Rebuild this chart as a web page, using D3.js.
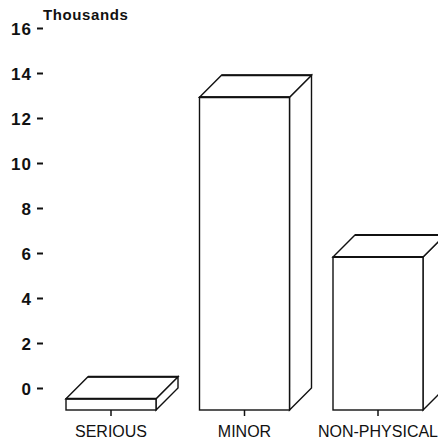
<!doctype html>
<html>
  <head>
    <meta charset="utf-8">
    <title>Thousands by category</title>
    <style>
      body { margin: 0; background: #fff; }
      svg { display: block; }
      .face {
        fill: #fff;
        stroke: #111;
        stroke-width: 1.4;
        stroke-linejoin: miter;
      }
    </style>
  </head>
  <body>
    <div id="chart"></div>

    <script src="https://cdn.jsdelivr.net/npm/d3@7"></script>

    <script>
      var categories = ['SERIOUS', 'MINOR', 'NON-PHYSICAL'];
      var values = [0.5, 13.9, 6.8];
      var yTicks = [0, 2, 4, 6, 8, 10, 12, 14, 16];

      (function() {
        var width = 438;
        var height = 445;
        var depth = 22;      // 3d offset of the back plane
        var barW = 90;
        var font = '"Liberation Sans", Arial, sans-serif';

        var svg = d3.select('#chart')
          .append('svg')
          .attr('width', width)
          .attr('height', height);

        // the axis is on the back plane
        var y = d3.scaleLinear().domain([0, 16]).range([388, 28]);
        var x = d3.scalePoint().domain(categories).range([111, 378]);

        var yAxis = d3.axisLeft(y)
          .tickValues(yTicks)
          .tickSize(6)
          .tickPadding(5)
          .tickFormat(d3.format('d'));

        var ax = svg.append('g')
          .attr('transform', 'translate(43,0)')
          .call(yAxis)
          .attr('font-family', font)
          .attr('font-size', 17)
          .attr('font-weight', 'bold');
        ax.select('.domain').remove();
        ax.selectAll('.tick line').attr('stroke', '#111').attr('stroke-width', 2);
        ax.selectAll('.tick text')
          .attr('fill', '#111')
          .attr('letter-spacing', 1)
          .attr('dy', '0.36em');

        svg.append('text')
          .attr('x', 43)
          .attr('y', 20)
          .attr('font-family', font)
          .attr('font-weight', 'bold')
          .attr('font-size', 15)
          .attr('letter-spacing', 0.6)
          .attr('fill', '#111')
          .text('Thousands');

        var bars = svg.selectAll('g.bar')
          .data(categories.map(function(c, i) { return {cat: c, v: values[i]}; }))
          .enter()
          .append('g')
          .attr('class', 'bar');

        // right side face
        bars.append('path')
          .attr('class', 'face')
          .attr('d', function(d) {
            var x1 = x(d.cat) + barW / 2, top = y(d.v) + depth, bot = y(0) + depth;
            return 'M' + x1 + ',' + top + 'L' + (x1 + depth) + ',' + (top - depth) +
              'L' + (x1 + depth) + ',' + (bot - depth) + 'L' + x1 + ',' + bot + 'Z';
          });

        // top face
        bars.append('path')
          .attr('class', 'face')
          .attr('d', function(d) {
            var x0 = x(d.cat) - barW / 2, x1 = x0 + barW, top = y(d.v) + depth;
            return 'M' + x0 + ',' + top + 'L' + (x0 + depth) + ',' + (top - depth) +
              'L' + (x1 + depth) + ',' + (top - depth) + 'L' + x1 + ',' + top + 'Z';
          });

        // front face
        bars.append('rect')
          .attr('class', 'face')
          .attr('x', function(d) { return x(d.cat) - barW / 2; })
          .attr('y', function(d) { return y(d.v) + depth; })
          .attr('width', barW)
          .attr('height', function(d) { return y(0) - y(d.v); });

        // heavier top edges
        bars.append('path')
          .attr('fill', 'none')
          .attr('stroke', '#111')
          .attr('stroke-width', 2)
          .attr('d', function(d) {
            var x0 = x(d.cat) - barW / 2, x1 = x0 + barW, top = y(d.v) + depth;
            return 'M' + x0 + ',' + top + 'L' + x1 + ',' + top +
              'M' + (x0 + depth) + ',' + (top - depth) + 'L' + (x1 + depth) + ',' + (top - depth);
          });

        // category ticks and labels
        bars.append('line')
          .attr('x1', function(d) { return x(d.cat); })
          .attr('x2', function(d) { return x(d.cat); })
          .attr('y1', y(0) + depth)
          .attr('y2', y(0) + depth + 6)
          .attr('stroke', '#111')
          .attr('stroke-width', 1.5);

        bars.append('text')
          .attr('x', function(d) { return x(d.cat); })
          .attr('y', 437)
          .attr('text-anchor', 'middle')
          .attr('font-family', font)
          .attr('font-size', 16)
          .attr('fill', '#111')
          .text(function(d) { return d.cat; });
      })();
    </script>
  </body>
</html>
